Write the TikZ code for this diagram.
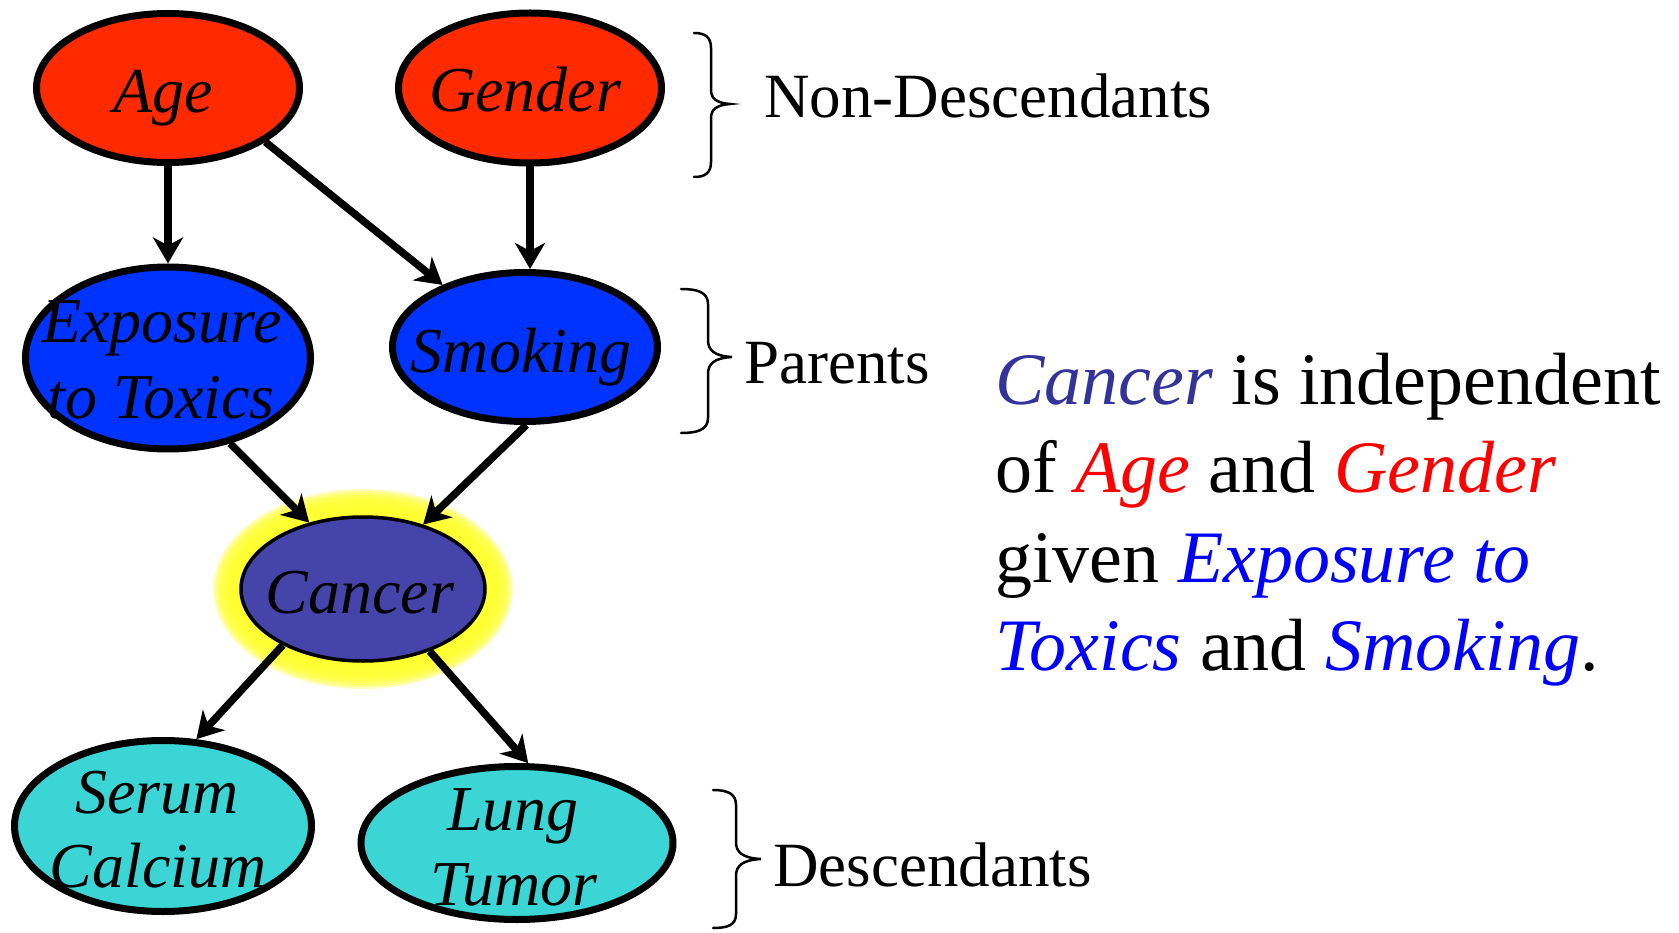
\documentclass[tikz,border=0pt]{standalone}
\usepackage{fontspec}
\setmainfont{Liberation Serif}
\usetikzlibrary{shapes.geometric,arrows.meta}
\definecolor{ndred}{HTML}{FF2A00}
\definecolor{parblue}{HTML}{0033FF}
\definecolor{canc}{HTML}{4444AA}
\definecolor{descc}{HTML}{3CD5D5}
\definecolor{glowc}{HTML}{FFFF30}
\definecolor{txcanc}{HTML}{333399}
\begin{document}
\begin{tikzpicture}[x=1pt,y=-1pt,
  vnode/.style={ellipse, draw=black, line width=7pt, inner sep=0pt},
  lbl/.style={font=\fontsize{64}{74}\selectfont\itshape, inner sep=0pt, anchor=base},
  side/.style={font=\fontsize{63}{76}\selectfont, inner sep=0pt, anchor=base west},
  stmt/.style={font=\fontsize{74}{89}\selectfont, inner sep=0pt, anchor=base west},
  arr/.style={line width=7.5pt, -{Stealth[length=26pt,width=30pt,inset=8pt]}},
  bracel/.style={line width=2.5pt, line cap=round}]
\useasboundingbox (0,0) rectangle (1679,933);
% glow around Cancer
\foreach \i in {0,...,14}
  \fill[glowc, opacity=0.33] (363,589) ellipse [x radius={(122+2*\i)*1pt}, y radius={(72+2*\i)*1pt}];
% nodes
\node[vnode, fill=ndred, minimum width=263pt, minimum height=149pt] (age) at (168,88) {};
\node[vnode, fill=ndred, minimum width=263pt, minimum height=150pt] (gender) at (530,88) {};
\node[vnode, fill=parblue, minimum width=285pt, minimum height=182pt] (expo) at (168,358) {};
\node[vnode, fill=parblue, minimum width=265pt, minimum height=149pt] (smoke) at (525,347) {};
\node[vnode, fill=canc, line width=3.5pt, minimum width=244pt, minimum height=144pt] (cancer) at (363,589) {};
\node[vnode, fill=descc, minimum width=297pt, minimum height=171pt] (serum) at (163,826) {};
\node[vnode, fill=descc, minimum width=312pt, minimum height=153pt] (lung) at (517,843) {};
% labels
\node[lbl] (ageT) at (163,113) {Age};
\node[lbl] (genderT) at (525,112) {Gender};
\node[lbl] (expoT1) at (162,343) {Exposure};
\node[lbl] (expoT2) at (161,418) {to Toxics};
\node[lbl] (smokeT) at (521,372) {Smoking};
\node[lbl] (cancerT) at (360,613) {Cancer};
\node[lbl] (serumT1) at (157,813) {Serum};
\node[lbl] (serumT2) at (158,887) {Calcium};
\node[lbl] (lungT1) at (513,830) {Lung};
\node[lbl] (lungT2) at (514,905) {Tumor};
% arrows
\draw[arr] (age.south) -- (expo.north);
\draw[arr] (age.-29) -- (smoke.143);
\draw[arr] (gender.south) -- (gender.south |- smoke.north);
\draw[arr] (expo.-54) -- (cancer.129);
\draw[arr] (smoke.-89) -- (cancer.47);
\draw[arr] (cancer.-145) -- (serum.69);
\draw[arr] (cancer.-43) -- (lung.82);
% braces
\draw[bracel] (694,33) .. controls (705,33) and (711,37) .. (711,48) -- (711,90) .. controls (711,98) and (716,103) .. (730,104) .. controls (716,105) and (711,110) .. (711,118) -- (711,162) .. controls (711,173) and (705,177) .. (694,177);
\draw[bracel] (681,289) .. controls (697,289) and (708,292) .. (708,304) -- (708,340) .. controls (708,350) and (714,356) .. (732,357) .. controls (714,358) and (708,364) .. (708,374) -- (708,418) .. controls (708,430) and (697,433) .. (681,433);
\draw[bracel] (713,790) .. controls (728,790) and (736,794) .. (736,805) -- (736,842) .. controls (736,852) and (742,858) .. (761,859) .. controls (742,860) and (736,866) .. (736,876) -- (736,914) .. controls (736,925) and (728,928) .. (713,928);
\node[side] (nondesc) at (764,118) {Non-Descendants};
\node[side] (parents) at (744,383) {Parents};
\node[side] (descs) at (773,886) {Descendants};
% statement
\node[stmt] (s1) at (995,404) {\textcolor{txcanc}{\itshape Cancer} is independent};
\node[stmt] (s2) at (995,492) {of \textcolor{red}{\itshape Age} and \textcolor{red}{\itshape Gender}};
\node[stmt] (s3) at (995,582) {given \textcolor{blue}{\itshape Exposure to}};
\node[stmt] (s4) at (995,670) {\textcolor{blue}{\itshape Toxics} and \textcolor{blue}{\itshape Smoking}.};
\end{tikzpicture}
\end{document}
